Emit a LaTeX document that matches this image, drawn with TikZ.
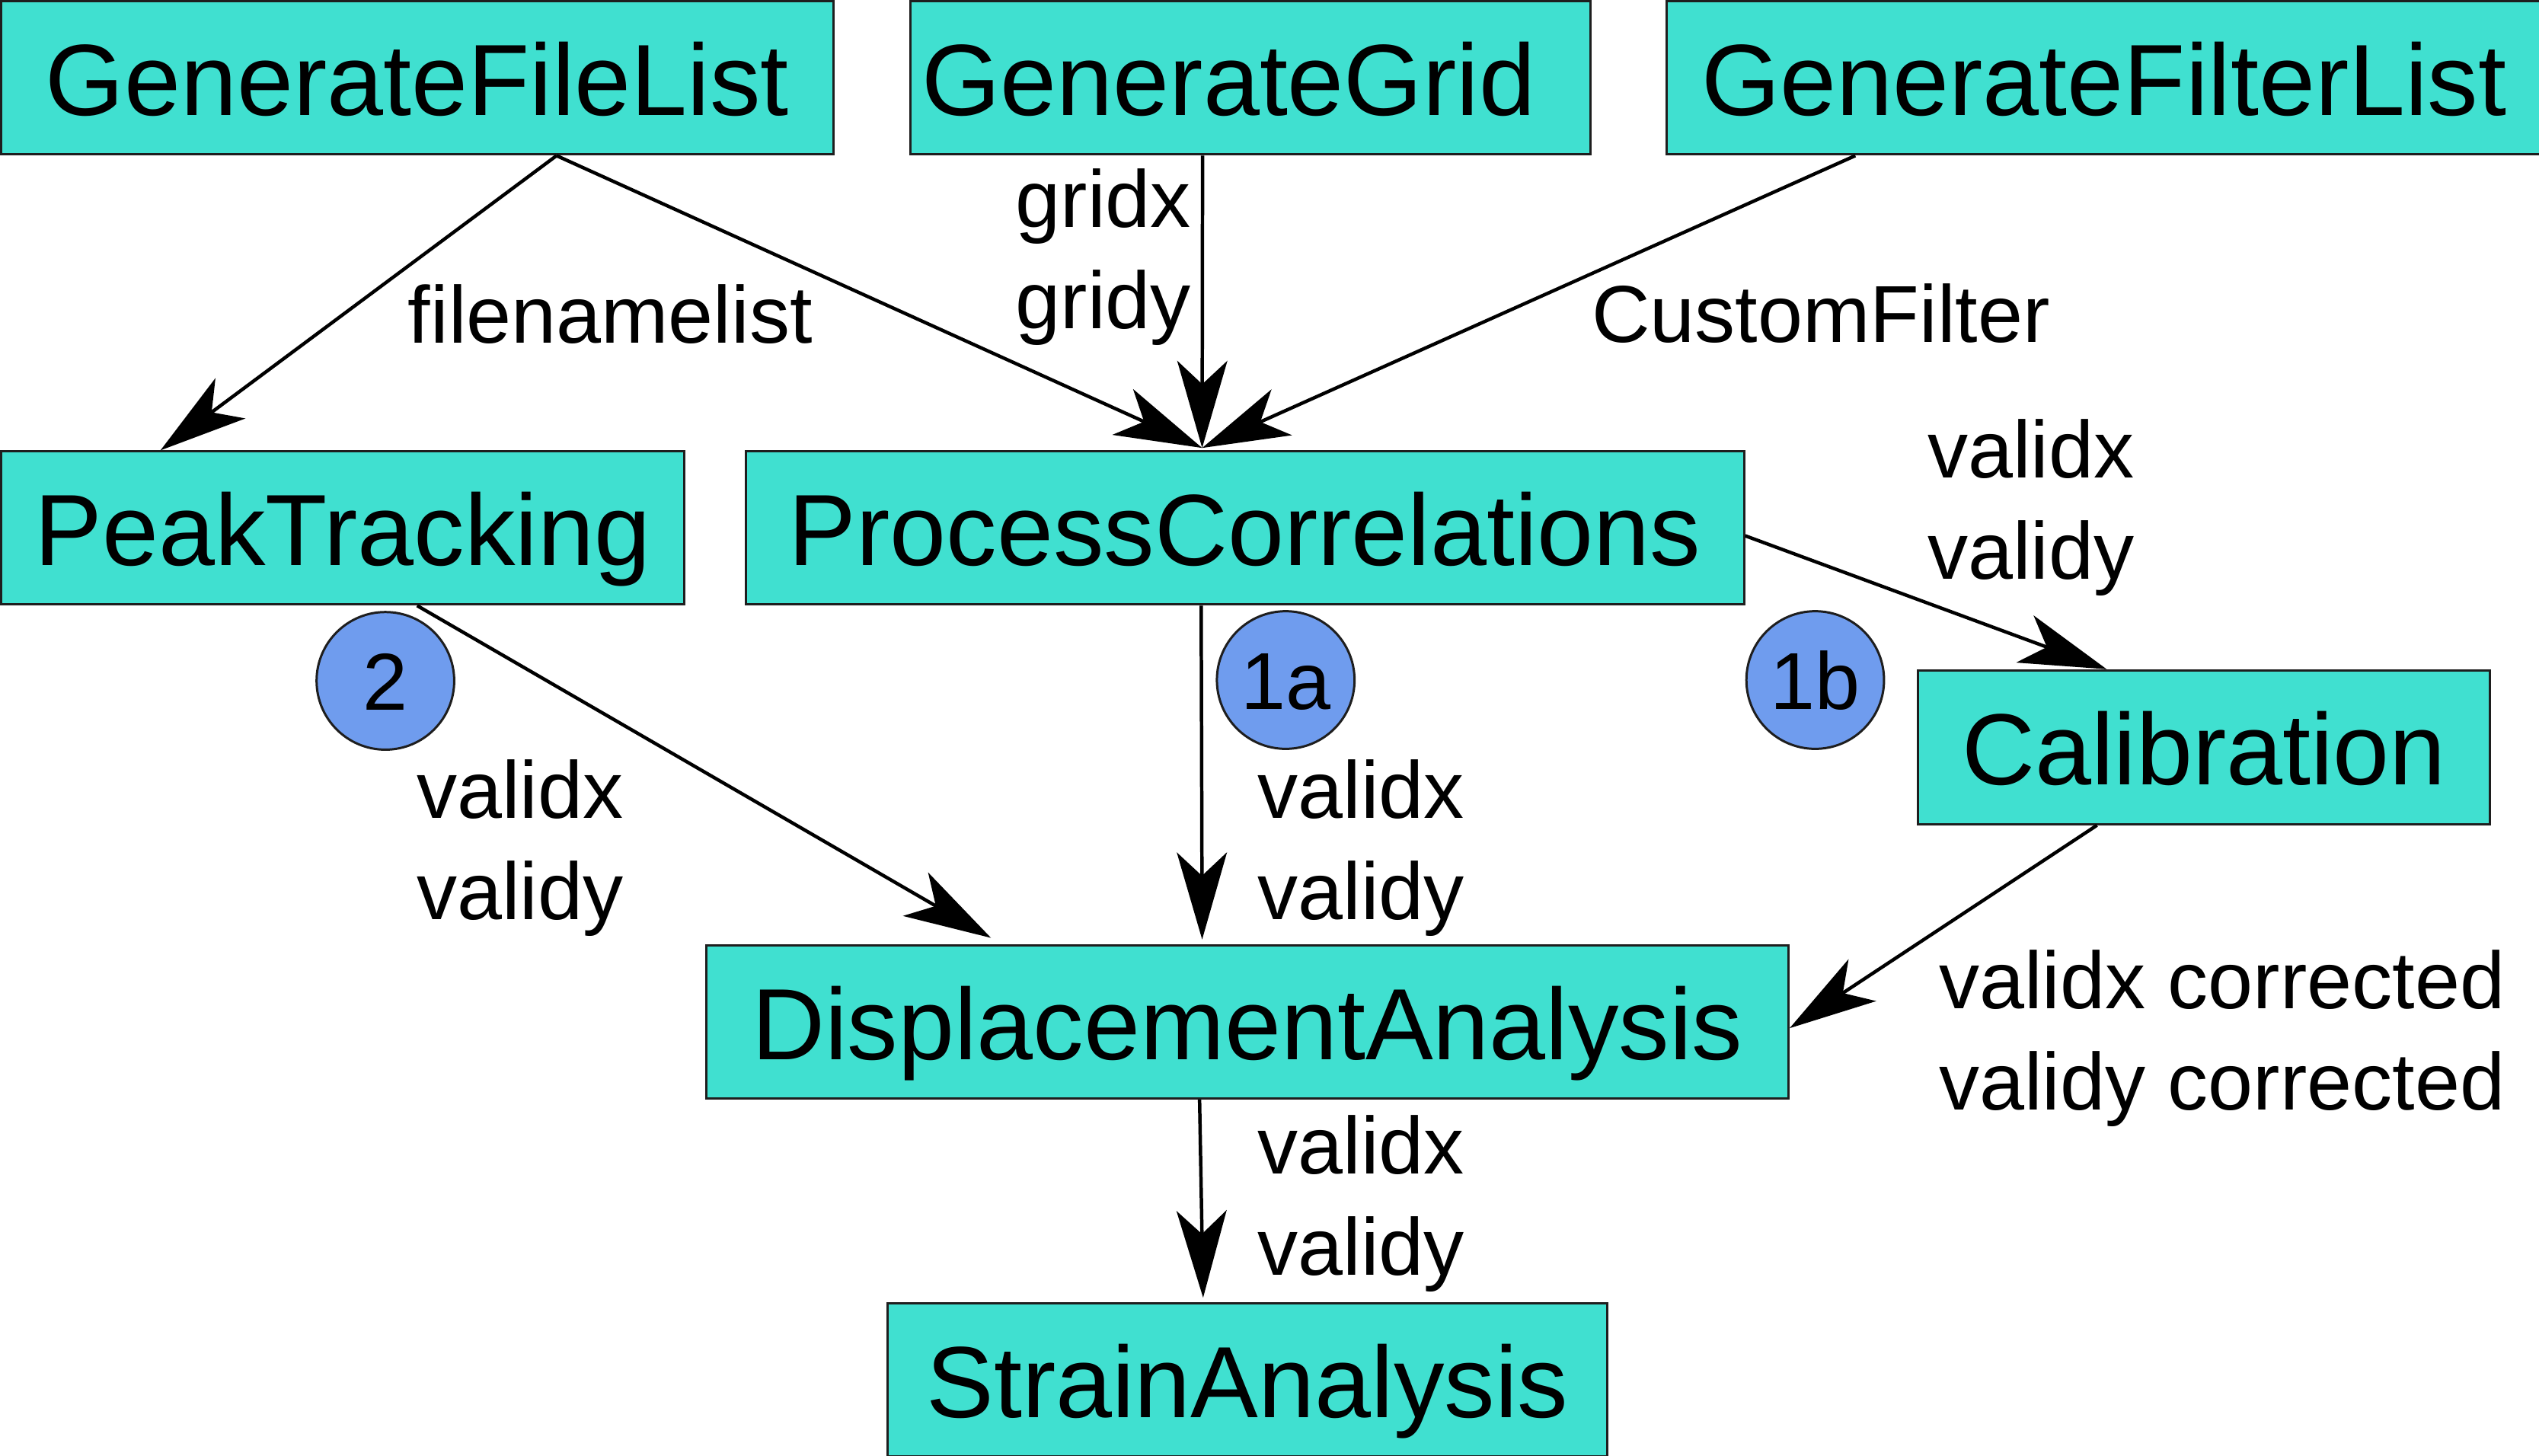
\documentclass[tikz,border=0pt]{standalone}
\usepackage{fontspec}
\setmainfont{Liberation Sans}
\usetikzlibrary{arrows.meta,positioning}
\definecolor{boxfill}{HTML}{40E0D0}
\definecolor{markfill}{HTML}{6F9CEE}
\definecolor{edgegray}{HTML}{1E1E1E}

\begin{document}
\begin{tikzpicture}[->,>={Stealth[length=15.3pt,width=8.8pt,inset=4.1pt]},line width=0.6pt,
  module/.style={draw=edgegray,line width=0.4pt,fill=boxfill,minimum height=0.945cm,inner sep=0pt,
    text height=0.46cm,text depth=0pt,font=\fontsize{17.8}{21}\selectfont},
  marker/.style={circle,draw=edgegray,line width=0.4pt,fill=markfill,minimum size=0.85cm,inner sep=0pt,
    text height=0.358cm,text depth=0pt,font=\fontsize{14.2}{17.75}\selectfont},
  lbl/.style={inner sep=0pt,align=left,font=\fontsize{14.2}{17.75}\selectfont}]
  \useasboundingbox (0,0) rectangle (15.68,8.992);
  % modules
  \node[module,minimum width=5.139cm] (gfl) at (2.577,8.510) {GenerateFileList};
  \node[module,minimum width=4.20cm] (ggrid) [right=0.46cm of gfl] {GenerateGrid\hspace*{0.266cm}};
  \node[module,minimum width=5.398cm] (gfilt) [right=0.46cm of ggrid] {GenerateFilterList};
  \node[module,minimum width=4.217cm] (peak) at (2.116,5.731) {PeakTracking};
  \node[module,minimum width=6.165cm] (proc) at (7.688,5.731) {ProcessCorrelations};
  \node[module,minimum width=3.532cm,minimum height=0.95cm] (calib) at (13.611,4.377) {Calibration};
  \node[module,minimum width=6.684cm] (disp) at (7.703,2.680) {DisplacementAnalysis};
  \node[module,minimum width=4.442cm] (strain) [below=1.253cm of disp] {StrainAnalysis};
  % numbered markers
  \node[marker] (m2) at (2.38,4.787) {2};
  \node[marker] (m1a) at (7.94,4.792) {1a};
  \node[marker] (m1b) at (11.21,4.792) {1b};
  % labels
  \node[lbl,anchor=base west] (lfile) at (2.51,6.873) {filenamelist};
  \node[lbl,anchor=north west] (lgrid) at (6.262,7.958) {gridx\\gridy};
  \node[lbl,anchor=base west] (lfilt) at (9.82,6.876) {CustomFilter};
  \node[lbl,anchor=north west] (lcal) at (11.894,6.411) {validx\\validy};
  \node[lbl,anchor=north west] (lpeak) at (2.563,4.310) {validx\\validy};
  \node[lbl,anchor=north west] (lproc) at (7.756,4.310) {validx\\validy};
  \node[lbl,anchor=north west] (lcorr) at (11.964,3.134) {validx corrected\\validy corrected};
  \node[lbl,anchor=north west] (ldisp) at (7.756,2.115) {validx\\validy};
  % connectors
  \path ([xshift=0.86cm]gfl.south) edge ([xshift=-1.125cm]peak.north);
  \path ([xshift=0.86cm]gfl.south) edge ([xshift=-0.264cm,yshift=0.015cm]proc.north);
  \path ([xshift=-0.294cm]ggrid.south) edge ([xshift=-0.264cm,yshift=0.015cm]proc.north);
  \path ([xshift=-1.536cm]gfilt.south) edge ([xshift=-0.264cm,yshift=0.015cm]proc.north);
  \path ([xshift=0.46cm]peak.south) edge ([xshift=-1.583cm,yshift=0.04cm]disp.north);
  \path ([xshift=-0.27cm]proc.south) edge ([xshift=-0.279cm,yshift=0.03cm]disp.north);
  \path ([yshift=-0.048cm]proc.east) edge ([xshift=-0.601cm]calib.north);
  \path ([xshift=-0.661cm]calib.south) edge ([yshift=-0.038cm]disp.east);
  \path ([xshift=-0.295cm]disp.south) edge ([xshift=-0.273cm,yshift=0.03cm]strain.north);
\end{tikzpicture}
\end{document}
